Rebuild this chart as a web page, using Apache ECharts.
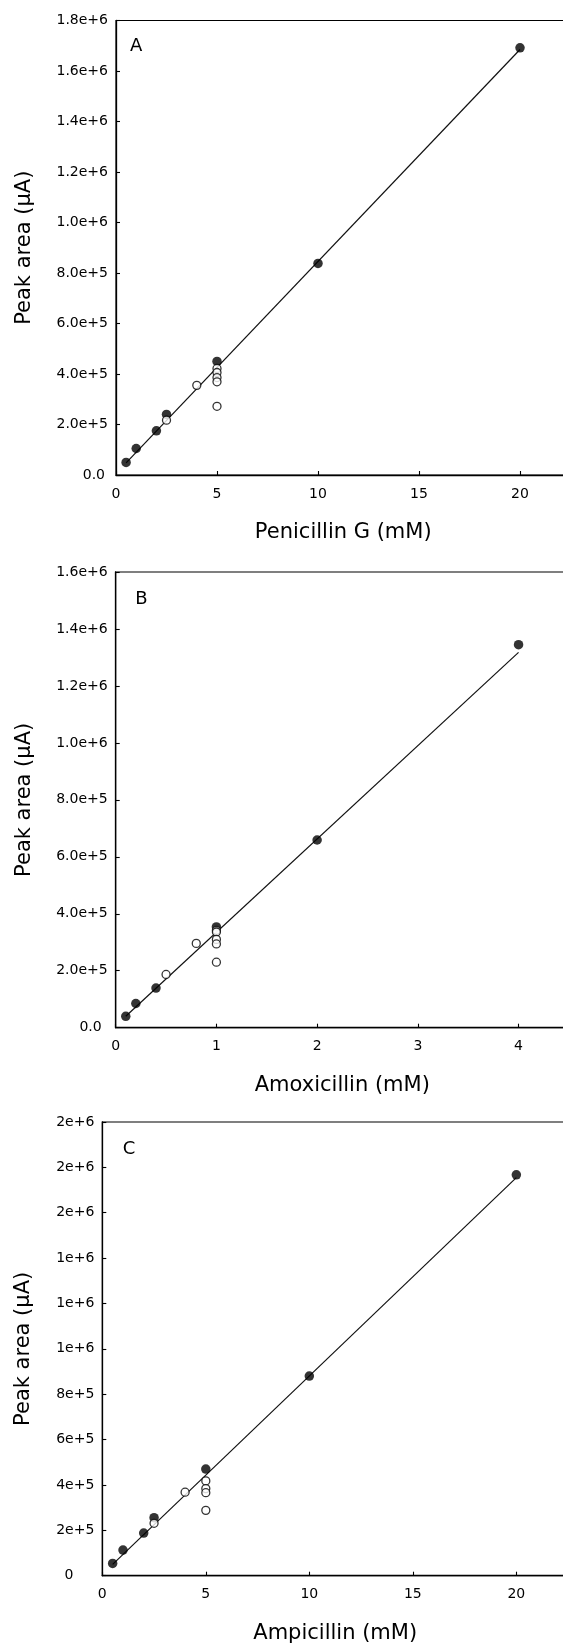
<!DOCTYPE html>
<html>
<head>
<meta charset="utf-8">
<script src="https://cdn.jsdelivr.net/npm/echarts@6/dist/echarts.min.js"></script>
<style>
html,body{margin:0;padding:0;background:#fff;}
#c{width:563px;height:1648px;}
</style>
</head>
<body>
<div id="c"></div>
<script>
// ---------- data ----------
// Panel A: Penicillin G
const penFilledX = [0.5, 1, 2, 2.5, 5, 10, 20];
const penFilledY = [5.0e4, 1.05e5, 1.75e5, 2.40e5, 4.50e5, 8.38e5, 1.692e6];
const penOpenX = [2.5, 4, 5, 5, 5, 5, 5];
const penOpenY = [2.17e5, 3.55e5, 4.22e5, 4.06e5, 3.86e5, 3.69e5, 2.72e5];
const penFitX = [0.5, 20];
const penFitY = [4.8e4, 1.685e6];

// Panel B: Amoxicillin
const amoxFilledX = [0.1, 0.2, 0.4, 1, 2, 4];
const amoxFilledY = [4.0e4, 8.5e4, 1.39e5, 3.54e5, 6.59e5, 1.345e6];
const amoxOpenX = [0.5, 0.8, 1, 1, 1, 1, 1];
const amoxOpenY = [1.87e5, 2.96e5, 3.42e5, 3.36e5, 3.10e5, 2.94e5, 2.30e5];
const amoxFitX = [0.1, 4];
const amoxFitY = [4.0e4, 1.318e6];

// Panel C: Ampicillin
const ampFilledX = [0.5, 1, 2, 2.5, 5, 10, 20];
const ampFilledY = [5.4e4, 1.13e5, 1.88e5, 2.56e5, 4.70e5, 8.80e5, 1.767e6];
const ampOpenX = [2.5, 4, 5, 5, 5, 5];
const ampOpenY = [2.31e5, 3.68e5, 4.18e5, 3.84e5, 3.66e5, 2.88e5];
const ampFitX = [0.5, 20];
const ampFitY = [5.0e4, 1.755e6];

// axis settings
const xMaxA = 22.5, xIntA = 5;
const xMaxB = 4.5, xIntB = 1;
const xMaxC = 22.5, xIntC = 5;
const yMaxA = 1.8e6, yMaxB = 1.6e6, yMaxC = 2.0e6, yInt = 2e5;

const xTitles = ['Penicillin G (mM)', 'Amoxicillin (mM)', 'Ampicillin (mM)'];
const yTitle = 'Peak area (\u00B5A)';
const panelLetters = ['A', 'B', 'C'];

// ---------- layout ----------
const FONT = 'DejaVu Sans';
const grids = [
  {left: 116, top: 20.5, width: 454.5, height: 454.5},
  {left: 115.7, top: 572, width: 453.2, height: 455.7},
  {left: 102.3, top: 1122, width: 465.8, height: 453.7}
];
const zeroPad = [3, 6, 21];

function pairs(xs, ys) { return xs.map((x, i) => [x, ys[i]]); }

const fmtA = v => v === 0 ? '{z|0.0}' : v.toExponential(1);
const fmtC = v => v === 0 ? '{z|0}' : v.toExponential(0);

const xMaxes = [xMaxA, xMaxB, xMaxC];
const xInts = [xIntA, xIntB, xIntC];
const yMaxes = [yMaxA, yMaxB, yMaxC];
const yFmts = [fmtA, fmtA, fmtC];

const xAxes = [], yAxes = [];
for (let i = 0; i < 3; i++) {
  xAxes.push({
    type: 'value', gridIndex: i, min: 0, max: xMaxes[i], interval: xInts[i],
    name: xTitles[i], nameLocation: 'middle', nameGap: 47,
    nameTextStyle: {fontFamily: FONT, fontSize: 21, color: '#000'},
    axisLine: {show: true, onZero: false, lineStyle: {color: '#000', width: 1.3}},
    axisTick: {show: true, inside: true, length: 4, lineStyle: {color: '#000', width: 1.1}},
    axisLabel: {show: true, showMaxLabel: false, margin: 12, fontFamily: FONT, fontSize: 14, color: '#000'},
    splitLine: {show: false}
  });
  yAxes.push({
    type: 'value', gridIndex: i, min: 0, max: yMaxes[i], interval: yInt,
    name: yTitle, nameLocation: 'middle', nameGap: i === 2 ? 68 : 81, nameRotate: 90,
    nameTextStyle: {fontFamily: FONT, fontSize: 21, color: '#000'},
    axisLine: {show: true, onZero: false, lineStyle: {color: '#000', width: 1.3}},
    axisTick: {show: true, inside: true, length: 4, lineStyle: {color: '#000', width: 1.1}},
    axisLabel: {
      show: true, margin: 8, fontFamily: FONT, fontSize: 14, color: '#000',
      formatter: yFmts[i],
      rich: {z: {fontFamily: FONT, fontSize: 14, color: '#000', padding: [0, zeroPad[i], 0, 0]}}
    },
    splitLine: {show: false}
  });
}

const datasets = [
  [penFilledX, penFilledY, penOpenX, penOpenY, penFitX, penFitY],
  [amoxFilledX, amoxFilledY, amoxOpenX, amoxOpenY, amoxFitX, amoxFitY],
  [ampFilledX, ampFilledY, ampOpenX, ampOpenY, ampFitX, ampFitY]
];

const series = [];
datasets.forEach((d, i) => {
  series.push({
    type: 'line', xAxisIndex: i, yAxisIndex: i, data: pairs(d[4], d[5]),
    symbol: 'none', lineStyle: {color: '#111', width: 1.2}, z: 2, silent: true
  });
  series.push({
    type: 'scatter', xAxisIndex: i, yAxisIndex: i, data: pairs(d[0], d[1]),
    symbol: 'circle', symbolSize: 9.5, itemStyle: {color: '#000'}, z: 3, silent: true
  });
  series.push({
    type: 'scatter', xAxisIndex: i, yAxisIndex: i, data: pairs(d[2], d[3]),
    symbol: 'circle', symbolSize: 8,
    itemStyle: {color: '#fff', borderColor: '#000', borderWidth: 1.3}, z: 4, silent: true
  });
});

const letterOffsets = [[14, 17], [19.5, 18], [20.5, 18]];
const graphic = grids.map((g, i) => ({
  type: 'text', left: g.left + letterOffsets[i][0], top: g.top + letterOffsets[i][1],
  style: {text: panelLetters[i], fontFamily: FONT, fontSize: 18, fill: '#000'}
}));

const option = {
  backgroundColor: '#fff',
  animation: false,
  grid: grids.map(g => Object.assign({show: true, borderColor: '#000', borderWidth: 1.2, backgroundColor: 'transparent', containLabel: false, outerBoundsMode: 'none'}, g)),
  xAxis: xAxes,
  yAxis: yAxes,
  series: series,
  graphic: graphic
};

const chart = echarts.init(document.getElementById('c'), null, {renderer: 'canvas'});
chart.setOption(option);
</script>
</body>
</html>
